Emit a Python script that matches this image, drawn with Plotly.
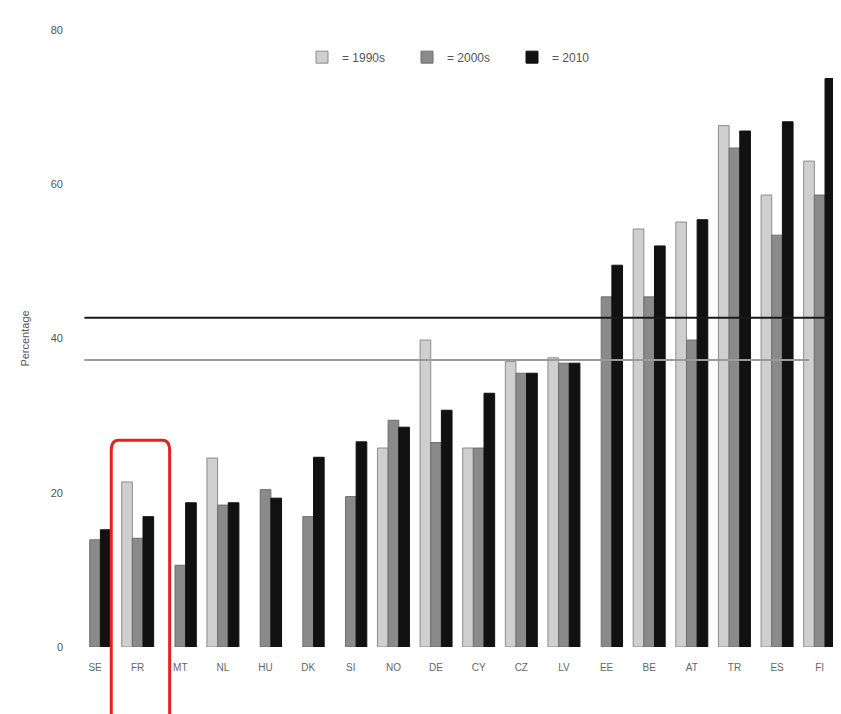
import plotly.graph_objects as go

# Country codes along the x axis
countries = ["SE", "FR", "MT", "NL", "HU", "DK", "SI", "NO", "DE",
             "CY", "CZ", "LV", "EE", "BE", "AT", "TR", "ES", "FI"]

# Percentages per period (None = no bar)
pct_1990s = [None, 21.4, None, 24.5, None, None, None, 25.8, 39.8,
             25.8, 37.0, 37.5, None, 54.2, 55.1, 67.6, 58.6, 63.0]
pct_2000s = [13.9, 14.1, 10.6, 18.4, 20.4, 16.9, 19.5, 29.4, 26.5,
             25.8, 35.5, 36.8, 45.4, 45.4, 39.8, 64.7, 53.4, 58.6]
pct_2010 = [15.2, 16.9, 18.7, 18.7, 19.3, 24.6, 26.6, 28.5, 30.7,
            32.9, 35.5, 36.8, 49.5, 52.0, 55.4, 66.9, 68.1, 73.7]

# Reference levels drawn across the chart
avg_black = 42.7
avg_gray = 37.2

idx = list(range(len(countries)))

fig = go.Figure()

fig.add_trace(go.Bar(
    x=idx, y=pct_1990s, name="= 1990s",
    marker=dict(color="#cfcfcf", line=dict(color="#8c8c8c", width=1)),
))
fig.add_trace(go.Bar(
    x=idx, y=pct_2000s, name="= 2000s",
    marker=dict(color="#8a8a8a", line=dict(color="#6e6e6e", width=1)),
))
fig.add_trace(go.Bar(
    x=idx, y=pct_2010, name="= 2010",
    marker=dict(color="#111111", line=dict(color="#111111", width=1)),
))

# Horizontal reference lines
fig.add_shape(type="line", xref="x", yref="y", x0=-0.25, x1=17.25,
              y0=avg_black, y1=avg_black, line=dict(color="#1a1a1a", width=2))
fig.add_shape(type="line", xref="x", yref="y", x0=-0.25, x1=16.75,
              y0=avg_gray, y1=avg_gray, line=dict(color="#9a9a9a", width=2))

# Red rounded box highlighting FR
hx = 1
fig.add_shape(
    type="path", xref="x", yref="paper",
    path=(f"M {hx - 0.62} -0.12 L {hx - 0.62} 0.318 "
          f"Q {hx - 0.62} 0.335 {hx - 0.45} 0.335 "
          f"L {hx + 0.58} 0.335 "
          f"Q {hx + 0.75} 0.335 {hx + 0.75} 0.318 "
          f"L {hx + 0.75} -0.12"),
    line=dict(color="#e8201e", width=3),
)

# page body adds an 8px offset, so the figure is a bit smaller than the window
fig.update_layout(
    width=833, height=706,
    margin=dict(l=70, r=0, t=22, b=67),
    paper_bgcolor="white", plot_bgcolor="white",
    barmode="group", bargap=0.25, bargroupgap=0,
    font=dict(family="Liberation Sans, Arial, sans-serif", size=11, color="#555555"),
    showlegend=True,
    legend=dict(orientation="h", x=0.5, xanchor="center", y=0.956, yanchor="middle",
                font=dict(size=12, color="#555555"), itemwidth=30,
                entrywidth=60, entrywidthmode="pixels",
                bgcolor="rgba(0,0,0,0)"),
    xaxis=dict(
        range=[-0.4, 17.5], tickmode="array", tickvals=idx, ticktext=countries,
        showgrid=False, zeroline=False, showline=False, ticks="",
        ticklabelstandoff=13, tickfont=dict(size=10, color="#666666"),
    ),
    yaxis=dict(
        range=[0, 80], tickvals=[0, 20, 40, 60, 80], showgrid=False,
        zeroline=False, showline=False, ticks="", ticklabelstandoff=14,
        tickfont=dict(size=11, color="#555555"),
        title=dict(text="Percentage", font=dict(size=11, color="#555555"), standoff=18),
    ),
)

fig.write_html("out.html")
